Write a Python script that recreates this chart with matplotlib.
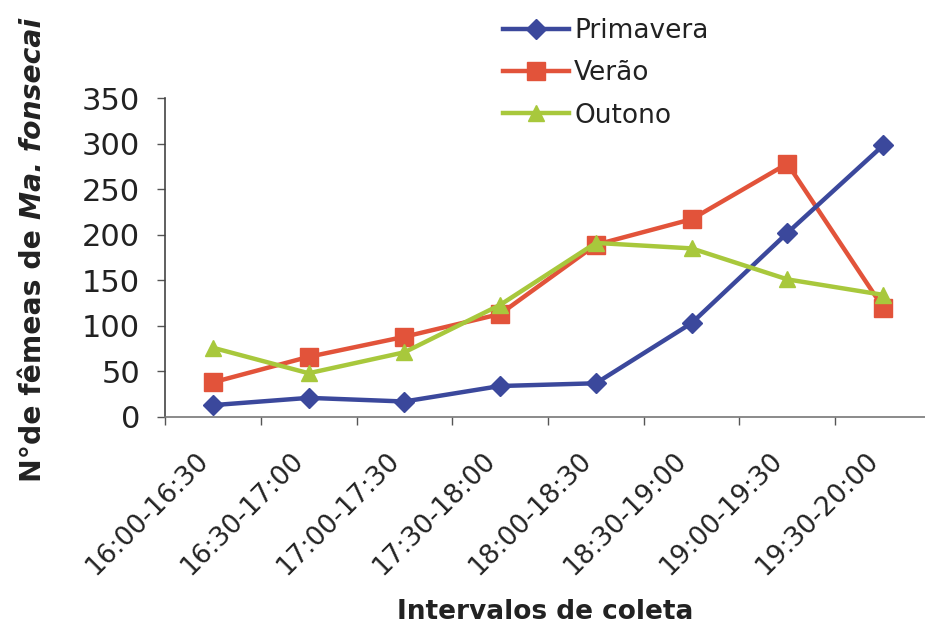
import matplotlib
matplotlib.use("Agg")
import matplotlib.pyplot as plt
from matplotlib.transforms import ScaledTranslation
import numpy as np

# data
intervals = ["16:00-16:30", "16:30-17:00", "17:00-17:30", "17:30-18:00",
             "18:00-18:30", "18:30-19:00", "19:00-19:30", "19:30-20:00"]
primavera = [13, 21, 17, 34, 37, 103, 202, 298]
verao = [38, 66, 88, 113, 189, 217, 278, 120]
outono = [76, 48, 71, 123, 191, 185, 151, 134]

BLUE = "#3b489c"
RED = "#e2533a"
GREEN = "#a8c83c"
TXT = "#222222"

plt.rcParams["font.family"] = ["DejaVu Sans"]

W, H = 925, 636
fig = plt.figure(figsize=(W / 100, H / 100), dpi=100)
fig.patch.set_facecolor("white")

# axes box in pixels: x 165..931, y 98..417 (from top)
ax = fig.add_axes([165 / W, (H - 417) / H, 766 / W, 319 / H])

x = np.arange(len(intervals))
ax.plot(x, primavera, color=BLUE, lw=3.2, marker="D", ms=10.5,
        mfc=BLUE, mec=BLUE, label="Primavera", clip_on=False, zorder=3)
ax.plot(x, verao, color=RED, lw=3.2, marker="s", ms=13,
        mfc=RED, mec=RED, label="Verão", clip_on=False, zorder=2)
ax.plot(x, outono, color=GREEN, lw=3.2, marker="^", ms=11,
        mfc=GREEN, mec=GREEN, label="Outono", clip_on=False, zorder=4)

ax.set_xlim(-0.5, len(intervals) - 0.5)
ax.set_ylim(0, 350)
ax.set_yticks(np.arange(0, 351, 50))

# ticks at category boundaries, labels at centres
ax.set_xticks(np.arange(len(intervals) + 1) - 0.5)
ax.set_xticklabels([])
ax.set_xticks(x, minor=True)
ax.set_xticklabels(intervals, minor=True, rotation=45, ha="right",
                   rotation_mode="anchor", fontsize=19, color=TXT)
ax.tick_params(axis="x", which="minor", length=0, pad=22)
ax.tick_params(axis="x", which="major", length=6, width=1, color="#555555", direction="out")
ax.tick_params(axis="y", length=6, width=1, color="#555555", labelsize=22,
               labelcolor=TXT, pad=12)
shift = ScaledTranslation(-18 / 100, 0, fig.dpi_scale_trans)
for lab in ax.get_xticklabels(minor=True):
    lab.set_transform(lab.get_transform() + shift)

for s in ("top", "right"):
    ax.spines[s].set_visible(False)
ax.spines["left"].set_color("#444444")
ax.spines["bottom"].set_color("#777777")
ax.spines["left"].set_linewidth(1.2)
ax.spines["bottom"].set_linewidth(1.2)

fig.text(545 / W, (H - 612) / H, "Intervalos de coleta", ha="center", va="center",
         fontsize=19, fontweight="bold", color=TXT)

# y label in two pieces: plain bold + bold italic species name
t1 = fig.text(41 / W, (H - 482) / H, "N°de fêmeas de ", rotation=90,
              rotation_mode="anchor", ha="left", va="baseline",
              fontsize=20.3, fontweight="bold", color=TXT)
fig.canvas.draw()
bb = t1.get_window_extent(fig.canvas.get_renderer())
fig.text(41 / W, bb.y1 / H, "Ma. fonsecai", rotation=90,
         rotation_mode="anchor", ha="left", va="baseline",
         fontsize=20.3, fontweight="bold", style="italic", color=TXT)

leg = fig.legend(loc="upper left", bbox_to_anchor=(503 / W, (H - 18) / H),
                 frameon=False, fontsize=19, handlelength=2.5, handletextpad=0.2,
                 labelspacing=0.62, borderpad=0, borderaxespad=0)
for t in leg.get_texts():
    t.set_color(TXT)

fig.savefig("out.png", dpi=100, facecolor="white")
